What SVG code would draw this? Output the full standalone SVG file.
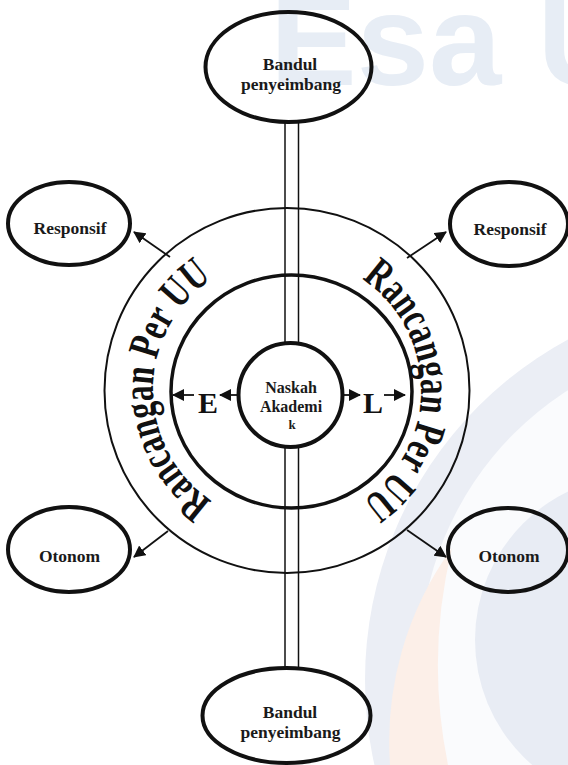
<svg xmlns="http://www.w3.org/2000/svg" width="568" height="765" viewBox="0 0 568 765">
<style>
.node{fill:none;stroke:#111;stroke-width:4}
.lbl{font-family:"Liberation Serif","Times New Roman",serif;font-weight:bold;font-size:17.5px;fill:#1a1a1a;text-anchor:middle}
.conn{stroke:#111;stroke-width:1.8;fill:none}
.rail{stroke:#111;stroke-width:1.5;fill:none}
.ring{font-family:"Liberation Serif","Times New Roman",serif;font-weight:bold;font-size:44px;fill:#111}
.big{font-family:"Liberation Serif","Times New Roman",serif;font-weight:bold;font-size:30px;fill:#111;text-anchor:middle}
</style>
<defs>
<marker id="ah" viewBox="0 0 12 12" refX="11" refY="6" markerWidth="12" markerHeight="12" markerUnits="userSpaceOnUse" orient="auto">
<path d="M0,0 L12,6 L0,12 z" fill="#111"/>
</marker>
<path id="arcL" d="M287,524 A134,134 0 0 1 287,256"/>
<path id="arcR" d="M287,256 A134,134 0 0 1 287,524"/>
</defs>
<g id="background">
<rect width="568" height="765" fill="#fff"/>
<text x="270" y="85" font-family="Liberation Sans,Arial,sans-serif" font-weight="bold" font-size="130" fill="#e7edf5">Esa U</text>
<circle cx="752" cy="680" r="387" fill="#ebeef5"/>
<circle cx="740" cy="660" r="320" fill="#fafbfd"/>
<path d="M390,765 A330,330 0 0 1 452,548 A500,500 0 0 0 448,765 Z" fill="#fcefe8"/>
<circle cx="640" cy="640" r="165" fill="#e8ecf4"/>
</g>
<g id="connectors">
<line class="rail" x1="285" y1="122" x2="285" y2="344"/>
<line class="rail" x1="298.5" y1="122" x2="298.5" y2="344"/>
<line class="rail" x1="285" y1="446" x2="285" y2="668"/>
<line class="rail" x1="298.5" y1="446" x2="298.5" y2="668"/>
<line class="conn" x1="170" y1="257" x2="134" y2="232" marker-end="url(#ah)"/>
<line class="conn" x1="407" y1="258" x2="446" y2="232" marker-end="url(#ah)"/>
<line class="conn" x1="168" y1="531" x2="134" y2="557" marker-end="url(#ah)"/>
<line class="conn" x1="407" y1="530" x2="446" y2="557" marker-end="url(#ah)"/>
<line class="conn" x1="238" y1="395" x2="220" y2="395" marker-end="url(#ah)"/>
<line class="conn" x1="194" y1="395" x2="173" y2="395" marker-end="url(#ah)"/>
<line class="conn" x1="343" y1="395" x2="360" y2="395" marker-end="url(#ah)"/>
<line class="conn" x1="384" y1="395" x2="405" y2="395" marker-end="url(#ah)"/>
</g>
<g id="outer-ring">
<circle cx="287" cy="390.5" r="182.5" fill="none" stroke="#111" stroke-width="2"/>
<text class="ring"><textPath href="#arcL" startOffset="50%" text-anchor="middle" textLength="262" lengthAdjust="spacingAndGlyphs">Rancangan Per UU</textPath></text>
<text class="ring"><textPath href="#arcR" startOffset="50%" text-anchor="middle" textLength="262" lengthAdjust="spacingAndGlyphs">Rancangan Per UU</textPath></text>
</g>
<g id="inner-ring">
<ellipse cx="291.5" cy="391.5" rx="120.5" ry="116.5" fill="none" stroke="#111" stroke-width="3.5"/>
<text class="big" x="208" y="413">E</text>
<text class="big" x="373" y="413">L</text>
</g>
<g id="naskah">
<circle class="node" cx="290.5" cy="395" r="52"/>
<text class="lbl" style="font-size:16px" x="291" y="393">Naskah</text>
<text class="lbl" style="font-size:16px" x="291" y="412">Akademi</text>
<text class="lbl" style="font-size:13px" x="292" y="429">k</text>
</g>
<g id="bandul-top">
<ellipse class="node" cx="288.5" cy="67" rx="83" ry="55"/>
<text class="lbl" x="290" y="70">Bandul</text>
<text class="lbl" x="291" y="89.5">penyeimbang</text>
</g>
<g id="bandul-bottom">
<ellipse class="node" cx="286.5" cy="715.5" rx="84" ry="47.5"/>
<text class="lbl" x="290" y="718">Bandul</text>
<text class="lbl" x="290.5" y="737.5">penyeimbang</text>
</g>
<g id="responsif-left">
<ellipse class="node" cx="69" cy="223.5" rx="61" ry="41.5"/>
<text class="lbl" x="70" y="234">Responsif</text>
</g>
<g id="responsif-right">
<ellipse class="node" cx="509" cy="224" rx="59" ry="42"/>
<text class="lbl" x="510" y="235">Responsif</text>
</g>
<g id="otonom-left">
<ellipse class="node" cx="69" cy="549.5" rx="61" ry="42.5"/>
<text class="lbl" x="69.5" y="562">Otonom</text>
</g>
<g id="otonom-right">
<ellipse class="node" cx="508" cy="550" rx="60" ry="42"/>
<text class="lbl" x="509" y="562">Otonom</text>
</g>
</svg>
